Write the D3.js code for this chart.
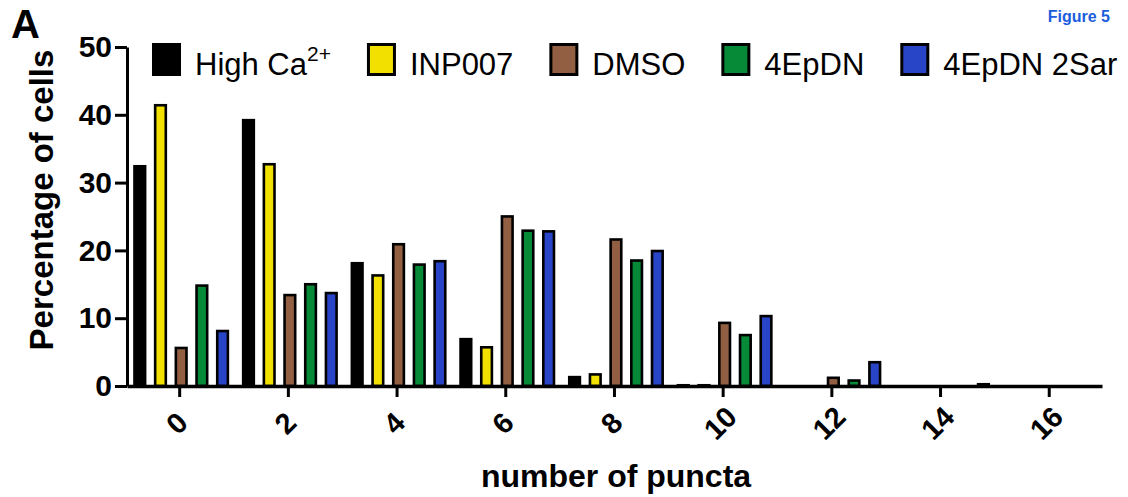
<!DOCTYPE html>
<html>
<head>
<meta charset="utf-8">
<script src="https://cdn.jsdelivr.net/npm/d3@7"></script>
<style>
  body { margin: 0; background: #fff; }
  svg text { font-family: "Liberation Sans", Arial, Helvetica, sans-serif; }
</style>
</head>
<body>
<div id="chart"></div>
<script>
// number of puncta bins
var categories = [0, 2, 4, 6, 8, 10, 12, 14, 16];
var seriesNames = ["High Ca", "INP007", "DMSO", "4EpDN", "4EpDN 2Sar"];
var highCa   = [32.6, 39.4, 18.3, 7.1, 1.5, 0.3, 0, 0, 0];
var inp007   = [41.6, 32.9, 16.5, 5.9, 1.9, 0.3, 0, 0, 0];
var dmso     = [5.8, 13.6, 21.1, 25.2, 21.8, 9.5, 1.4, 0, 0];
var epdn     = [15.0, 15.2, 18.1, 23.1, 18.7, 7.7, 1.0, 0, 0];
var epdn2sar = [8.3, 13.9, 18.6, 23.0, 20.1, 10.5, 3.7, 0.45, 0];
var yTicks = [0, 10, 20, 30, 40, 50];

var colors = ["#000000", "#f2e100", "#935f42", "#078a38", "#2945c7"];
var allSeries = [highCa, inp007, dmso, epdn, epdn2sar];

var W = 1128, H = 497;
var svg = d3.select("#chart").append("svg")
    .attr("width", W)
    .attr("height", H);

var x = d3.scaleLinear().domain([-0.96, 16.98]).range([127, 1102]);
var y = d3.scaleLinear().domain([0, 50]).range([386, 47]);
var inner = d3.scaleBand().domain(d3.range(5)).range([-46, 50]).paddingInner(0.36);

var sw = 2.6;

// bars
allSeries.forEach(function (vals, s) {
    svg.append("g").selectAll("rect")
        .data(vals.map(function (v, i) { return { v: v, c: categories[i] }; }).filter(function (d) { return d.v > 0; }))
        .enter().append("rect")
        .attr("x", function (d) { return x(d.c) + inner(s) + sw / 2; })
        .attr("y", function (d) { return y(d.v) + sw / 2; })
        .attr("width", inner.bandwidth() - sw)
        .attr("height", function (d) { return Math.max(0, y(0) - y(d.v) - sw / 2); })
        .style("fill", colors[s])
        .style("stroke", "#000")
        .style("stroke-width", sw);
});

// y axis
var yAxis = svg.append("g")
    .attr("transform", "translate(127,0)")
    .call(d3.axisLeft(y).tickValues(yTicks).tickSize(12).tickPadding(3).tickSizeOuter(0));
yAxis.select(".domain").style("stroke-width", 3);
yAxis.selectAll(".tick line").style("stroke-width", 3);
yAxis.selectAll("text")
    .style("font-size", "30px")
    .style("font-weight", "bold")
    .style("fill", "#000");

// x axis
var xAxis = svg.append("g")
    .attr("transform", "translate(0,386)")
    .call(d3.axisBottom(x).tickValues(categories).tickSize(11).tickSizeOuter(0).tickFormat(d3.format("d")));
xAxis.select(".domain").style("stroke-width", 3.5);
xAxis.selectAll(".tick line").style("stroke-width", 3);
xAxis.selectAll("text")
    .attr("y", 0)
    .attr("dy", "0.35em")
    .attr("text-anchor", "middle")
    .attr("transform", "translate(-3,37)rotate(-45)")
    .style("font-size", "29px")
    .style("font-weight", "bold")
    .style("fill", "#000");

// axis titles
svg.append("text")
    .attr("transform", "translate(53,200)rotate(-90)")
    .attr("text-anchor", "middle")
    .style("font-size", "33px")
    .style("font-weight", "bold")
    .text("Percentage of cells");

svg.append("text")
    .attr("x", 616)
    .attr("y", 487)
    .attr("text-anchor", "middle")
    .style("font-size", "32px")
    .style("font-weight", "bold")
    .text("number of puncta");

// panel letter and figure tag
svg.append("text")
    .attr("x", 11)
    .attr("y", 38)
    .style("font-size", "40px")
    .style("font-weight", "bold")
    .text("A");

svg.append("text")
    .attr("x", 1110)
    .attr("y", 22)
    .attr("text-anchor", "end")
    .style("font-family", "'Liberation Sans Narrow', 'Liberation Sans', Arial, sans-serif")
    .style("font-size", "16px")
    .style("font-weight", "bold")
    .style("fill", "#1a5ddc")
    .text("Figure 5");

// legend
var legend = svg.append("g");
var lx = 152;
seriesNames.forEach(function (name, s) {
    legend.append("rect")
        .attr("x", lx + 1.5)
        .attr("y", 44.5)
        .attr("width", 26)
        .attr("height", 30)
        .style("fill", colors[s])
        .style("stroke", "#000")
        .style("stroke-width", 3);
    var t = legend.append("text")
        .attr("x", lx + 43)
        .attr("y", 75)
        .style("font-size", "31px")
        .text(name);
    if (s === 0) {
        t.append("tspan")
            .attr("dy", -14)
            .style("font-size", "21px")
            .text("2+");
    }
    lx += 43 + t.node().getComputedTextLength() + 36;
});
</script>
</body>
</html>
